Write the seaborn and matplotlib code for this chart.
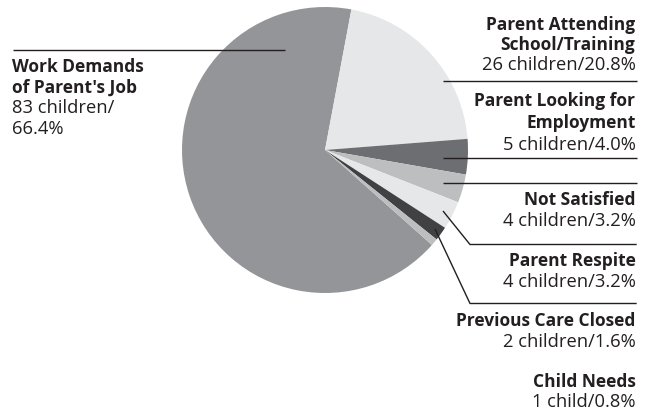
import matplotlib
matplotlib.use("Agg")
import matplotlib.pyplot as plt
import seaborn as sns

sns.set_theme(style="white")
plt.rcParams['font.family'] = ['Open Sans', 'DejaVu Sans']

categories = ["Work Demands\nof Parent's Job", "Parent Attending\nSchool/Training",
              "Parent Looking for\nEmployment", "Not Satisfied", "Parent Respite",
              "Previous Care Closed", "Child Needs"]
children = [83, 26, 5, 4, 4, 2, 1]
percents = [66.4, 20.8, 4.0, 3.2, 3.2, 1.6, 0.8]
colors = ["#939598", "#e6e7e8", "#6d6e71", "#bcbec0", "#e6e7e8", "#414042", "#bcbec0"]

W, H = 653, 410
fig = plt.figure(figsize=(W / 100, H / 100), dpi=100)
ax = fig.add_axes([0, 0, 1, 1])

def Y(y):
    return H - y

ax.pie(children, colors=colors, startangle=-41.6, counterclock=False,
       center=(325, Y(151)), radius=143, frame=True,
       wedgeprops=dict(linewidth=0))
ax.set_xlim(0, W)
ax.set_ylim(0, H)
ax.set_aspect('equal')
ax.axis('off')

def lab(n):
    return f"{n} child" if n == 1 else f"{n} children"

fsb = 12.5
fsr = 13.2
lc = "#231f20"
lw = 1.0

def block(x, ha, bold_lines, value_lines, baselines):
    lines = [(t, 'bold', fsb) for t in bold_lines] + [(t, 'normal', fsr) for t in value_lines]
    for (t, w, s), b in zip(lines, baselines):
        ax.text(x, Y(b), t, ha=ha, va='baseline', fontsize=s, fontweight=w, color=lc)

# Work demands (left)
ax.plot([12.5, 285], [Y(51), Y(51)], color=lc, lw=lw, solid_capstyle='butt')
block(12, 'left', categories[0].split('\n'),
      [f"{lab(children[0])}/", f"{percents[0]:.1f}%"], [72, 92.5, 113, 133.5])

xr = 635.5
right = [
    (1, [29.5, 49.5, 69.5]),
    (2, [105.7, 127.5, 149.5]),
    (3, [205, 226.5]),
    (4, [266.5, 287]),
    (5, [326, 347]),
    (6, [387, 407.5]),
]
for idx, bl in right:
    block(xr, 'right', categories[idx].split('\n'),
          [f"{lab(children[idx])}/{percents[idx]:.1f}%"], bl)

# leader lines
xe = 636.7
kw = dict(color=lc, lw=lw, solid_capstyle='butt')
ax.plot([443, xe], [Y(82.3), Y(82.3)], **kw)
ax.plot([443, xe], [Y(158.5), Y(158.5)], **kw)
ax.plot([443, xe], [Y(184), Y(184)], **kw)
ax.plot([443, 470, xe], [Y(212), Y(245.5), Y(245.5)], **kw)
ax.plot([435, 470, xe], [Y(230), Y(304.5), Y(304.5)], **kw)

fig.savefig("out.png", dpi=100, facecolor="white")
